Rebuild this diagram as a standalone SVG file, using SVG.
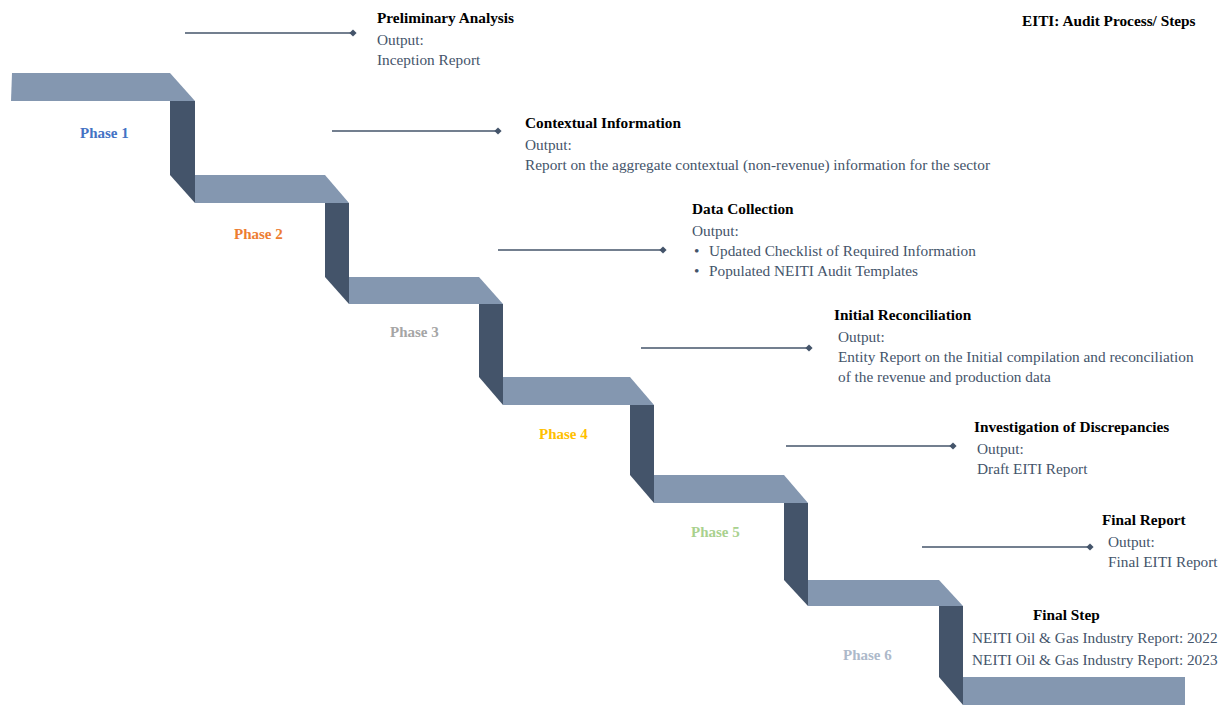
<svg xmlns="http://www.w3.org/2000/svg" width="1224" height="706" viewBox="0 0 1224 706">
<style>
.plate{fill:#8497B0}
.riser{fill:#44546A}
.conn{stroke:#44546A;stroke-width:1.6;fill:none;marker-end:url(#dia)}
.t{font-family:"Liberation Serif","Times New Roman",serif;font-size:15.3px}
.h{font-weight:bold;fill:#000}
.b{fill:#44546A}
.ph{font-family:"Liberation Serif","Times New Roman",serif;font-size:15px;font-weight:bold}
</style>
<defs>
<marker id="dia" viewBox="0 0 10 10" refX="5" refY="5" markerWidth="4.5" markerHeight="4.5" markerUnits="strokeWidth" orient="auto">
<path d="M0 5 L5 0 L10 5 L5 10 Z" fill="#44546A"/>
</marker>
</defs>
<rect width="1224" height="706" fill="#fff"/>
<g id="stairs">
<polygon class="plate" points="12,73 170,73 195,101 11,101"/>
<polygon class="riser" points="170,101 195,101 195,203 170,175"/>
<polygon class="plate" points="195,175 325,175 349,203 195,203"/>
<polygon class="riser" points="325,203 349,203 349,304 325,277"/>
<polygon class="plate" points="349,277 479,277 503,304 349,304"/>
<polygon class="riser" points="479,304 503,304 503,405 479,377"/>
<polygon class="plate" points="503,377 630,377 654,405 503,405"/>
<polygon class="riser" points="630,405 654,405 654,503 630,475"/>
<polygon class="plate" points="654,475 784,475 808,503 654,503"/>
<polygon class="riser" points="784,503 808,503 808,606 784,580"/>
<polygon class="plate" points="808,580 939,580 963,606 808,606"/>
<polygon class="riser" points="939,606 963,606 963,705 939,677"/>
<polygon class="plate" points="963,677 1185,677 1185,705 963,705"/>
</g>
<g id="phases">
<text class="ph" x="80" y="138" fill="#4472C4">Phase 1</text>
<text class="ph" x="234" y="239" fill="#ED7D31">Phase 2</text>
<text class="ph" x="390" y="337" fill="#A5A5A5">Phase 3</text>
<text class="ph" x="539" y="439" fill="#FFC000">Phase 4</text>
<text class="ph" x="691" y="537" fill="#A9D18E">Phase 5</text>
<text class="ph" x="843" y="660" fill="#ADB9CA">Phase 6</text>
</g>
<g id="connectors">
<line class="conn" x1="185" y1="33" x2="353" y2="33"/>
<line class="conn" x1="332" y1="131" x2="498" y2="131"/>
<line class="conn" x1="498" y1="250" x2="663" y2="250"/>
<line class="conn" x1="641" y1="348" x2="809" y2="348"/>
<line class="conn" x1="786" y1="446" x2="953" y2="446"/>
<line class="conn" x1="922" y1="547" x2="1090" y2="547"/>
</g>
<g id="title"><text class="t h" x="1022" y="26">EITI: Audit Process/ Steps</text></g>
<g id="step1">
<text class="t h" x="377" y="23">Preliminary Analysis</text>
<text class="t b" x="377" y="45">Output:</text>
<text class="t b" x="377" y="65">Inception Report</text>
</g>
<g id="step2">
<text class="t h" x="525" y="128">Contextual Information</text>
<text class="t b" x="525" y="150">Output:</text>
<text class="t b" x="525" y="170">Report on the aggregate  contextual (non-revenue) information for the sector</text>
</g>
<g id="step3">
<text class="t h" x="692" y="214">Data Collection</text>
<text class="t b" x="692" y="236">Output:</text>
<text class="t b" x="694" y="256">•</text>
<text class="t b" x="709" y="256">Updated Checklist  of Required Information</text>
<text class="t b" x="694" y="276">•</text>
<text class="t b" x="709" y="276">Populated NEITI Audit Templates</text>
</g>
<g id="step4">
<text class="t h" x="834" y="320">Initial Reconciliation</text>
<text class="t b" x="838" y="342">Output:</text>
<text class="t b" x="838" y="362">Entity Report on the Initial  compilation and reconciliation</text>
<text class="t b" x="838" y="382">of the revenue and production data</text>
</g>
<g id="step5">
<text class="t h" x="974" y="432">Investigation of Discrepancies</text>
<text class="t b" x="977" y="454">Output:</text>
<text class="t b" x="977" y="474">Draft EITI Report</text>
</g>
<g id="step6">
<text class="t h" x="1102" y="525">Final Report</text>
<text class="t b" x="1108" y="547">Output:</text>
<text class="t b" x="1108" y="567">Final EITI Report</text>
</g>
<g id="step7">
<text class="t h" x="1033" y="620">Final Step</text>
<text class="t b" x="972" y="643">NEITI  Oil &amp; Gas Industry Report: 2022</text>
<text class="t b" x="972" y="665">NEITI  Oil &amp; Gas Industry Report: 2023</text>
</g>
</svg>
